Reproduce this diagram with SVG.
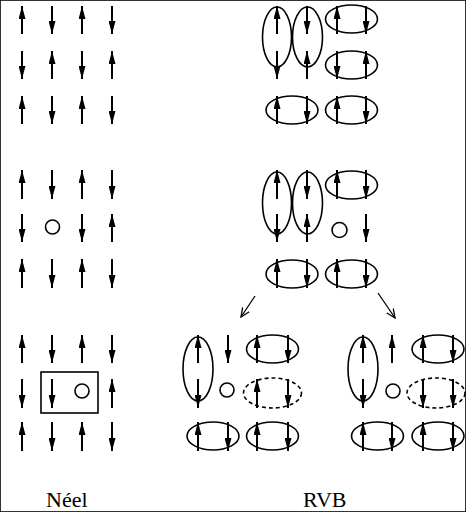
<svg xmlns="http://www.w3.org/2000/svg" width="466" height="512" viewBox="0 0 466 512">
<defs>
<marker id="h" viewBox="0 0 13 7" refX="13" refY="3.5" markerWidth="13" markerHeight="7" markerUnits="userSpaceOnUse" orient="auto"><path d="M0,0 L13,3.5 L0,7 z" fill="#000"/></marker>
<marker id="o" viewBox="0 0 10 10" refX="9" refY="5" markerWidth="10" markerHeight="10" markerUnits="userSpaceOnUse" orient="auto"><path d="M0,1 L9,5 L0,9" fill="none" stroke="#000" stroke-width="1.3"/></marker>
<style>
line.s{stroke:#000;stroke-width:2;marker-end:url(#h)}
ellipse,circle,rect{fill:none;stroke:#000;stroke-width:1.6}
.d{stroke-dasharray:4 3}
.c{stroke:#000;stroke-width:1.3;fill:none;marker-end:url(#o)}
text{font-family:"Liberation Serif","Times New Roman",serif;font-size:22px;fill:#000}
</style>
</defs>
<rect width="466" height="512" fill="#fff" stroke="none"/>

<g id="neel1">
<line class="s" x1="22" y1="34" x2="22" y2="6"/><line class="s" x1="52" y1="6" x2="52" y2="34"/><line class="s" x1="82" y1="34" x2="82" y2="6"/><line class="s" x1="112" y1="6" x2="112" y2="34"/>
<line class="s" x1="22" y1="51" x2="22" y2="79"/><line class="s" x1="52" y1="79" x2="52" y2="51"/><line class="s" x1="82" y1="51" x2="82" y2="79"/><line class="s" x1="112" y1="79" x2="112" y2="51"/>
<line class="s" x1="22" y1="124" x2="22" y2="96"/><line class="s" x1="52" y1="96" x2="52" y2="124"/><line class="s" x1="82" y1="124" x2="82" y2="96"/><line class="s" x1="112" y1="96" x2="112" y2="124"/>
</g>

<g id="neel2">
<line class="s" x1="22" y1="199" x2="22" y2="170"/><line class="s" x1="52" y1="170" x2="52" y2="199"/><line class="s" x1="82" y1="199" x2="82" y2="170"/><line class="s" x1="112" y1="170" x2="112" y2="199"/>
<line class="s" x1="22" y1="214" x2="22" y2="242"/><circle cx="52.5" cy="227" r="7"/><line class="s" x1="82" y1="214" x2="82" y2="242"/><line class="s" x1="112" y1="242" x2="112" y2="214"/>
<line class="s" x1="22" y1="288" x2="22" y2="259"/><line class="s" x1="52" y1="259" x2="52" y2="288"/><line class="s" x1="82" y1="288" x2="82" y2="259"/><line class="s" x1="112" y1="259" x2="112" y2="288"/>
</g>

<g id="neel3">
<line class="s" x1="22" y1="363" x2="22" y2="335"/><line class="s" x1="52" y1="335" x2="52" y2="363"/><line class="s" x1="82" y1="363" x2="82" y2="335"/><line class="s" x1="112" y1="335" x2="112" y2="363"/>
<line class="s" x1="22" y1="379" x2="22" y2="408"/><line class="s" x1="52" y1="379" x2="52" y2="408"/><circle cx="82" cy="391" r="7"/><line class="s" x1="112" y1="408" x2="112" y2="379"/>
<rect x="41" y="372" width="57" height="41"/>
<line class="s" x1="22" y1="451" x2="22" y2="422"/><line class="s" x1="52" y1="422" x2="52" y2="451"/><line class="s" x1="82" y1="451" x2="82" y2="422"/><line class="s" x1="112" y1="422" x2="112" y2="451"/>
</g>

<g id="rvb1">
<ellipse cx="277" cy="37" rx="14.5" ry="30"/><ellipse cx="307.5" cy="37" rx="15" ry="30"/>
<ellipse cx="351.5" cy="19" rx="26" ry="14"/><ellipse cx="351.5" cy="65" rx="26" ry="14"/>
<ellipse cx="292" cy="110" rx="26" ry="14"/><ellipse cx="351.5" cy="110" rx="26" ry="14"/>
<line class="s" x1="277" y1="34" x2="277" y2="6"/><line class="s" x1="307" y1="6" x2="307" y2="34"/><line class="s" x1="337" y1="34" x2="337" y2="6"/><line class="s" x1="366" y1="6" x2="366" y2="34"/>
<line class="s" x1="277" y1="51" x2="277" y2="79"/><line class="s" x1="307" y1="79" x2="307" y2="51"/><line class="s" x1="337" y1="51" x2="337" y2="79"/><line class="s" x1="366" y1="79" x2="366" y2="51"/>
<line class="s" x1="277" y1="124" x2="277" y2="96"/><line class="s" x1="307" y1="96" x2="307" y2="124"/><line class="s" x1="337" y1="124" x2="337" y2="96"/><line class="s" x1="366" y1="96" x2="366" y2="124"/>
</g>

<g id="rvb2">
<ellipse cx="277" cy="203" rx="14.5" ry="31"/><ellipse cx="307.5" cy="203" rx="15" ry="31"/>
<ellipse cx="351.5" cy="185" rx="26" ry="14"/>
<ellipse cx="292" cy="274" rx="26" ry="14"/><ellipse cx="351.5" cy="274" rx="26" ry="14"/>
<line class="s" x1="277" y1="199" x2="277" y2="170"/><line class="s" x1="307" y1="170" x2="307" y2="199"/><line class="s" x1="337" y1="199" x2="337" y2="170"/><line class="s" x1="366" y1="170" x2="366" y2="199"/>
<line class="s" x1="277" y1="214" x2="277" y2="242"/><line class="s" x1="307" y1="242" x2="307" y2="214"/><circle cx="339.5" cy="230" r="7.5"/><line class="s" x1="366" y1="214" x2="366" y2="242"/>
<line class="s" x1="277" y1="288" x2="277" y2="259"/><line class="s" x1="307" y1="259" x2="307" y2="288"/><line class="s" x1="337" y1="288" x2="337" y2="259"/><line class="s" x1="366" y1="259" x2="366" y2="288"/>
</g>

<g id="rvb3">
<ellipse cx="198" cy="369" rx="15" ry="32"/>
<ellipse cx="272.5" cy="349" rx="26" ry="14"/><ellipse class="d" cx="272.5" cy="393" rx="29" ry="15"/>
<ellipse cx="213" cy="436" rx="26" ry="14"/><ellipse cx="272.5" cy="436" rx="26" ry="14"/>
<line class="s" x1="198" y1="363" x2="198" y2="335"/><line class="s" x1="228" y1="335" x2="228" y2="363"/><line class="s" x1="257" y1="363" x2="257" y2="335"/><line class="s" x1="288" y1="335" x2="288" y2="363"/>
<line class="s" x1="198" y1="379" x2="198" y2="408"/><circle cx="227" cy="390" r="7"/><line class="s" x1="257" y1="408" x2="257" y2="379"/><line class="s" x1="288" y1="379" x2="288" y2="408"/>
<line class="s" x1="198" y1="451" x2="198" y2="422"/><line class="s" x1="228" y1="422" x2="228" y2="451"/><line class="s" x1="257" y1="451" x2="257" y2="422"/><line class="s" x1="288" y1="422" x2="288" y2="451"/>
</g>

<g id="rvb4">
<ellipse cx="363" cy="369" rx="15" ry="32"/>
<ellipse cx="438" cy="349" rx="26" ry="14"/><ellipse class="d" cx="436" cy="393" rx="29" ry="15"/>
<ellipse cx="377.5" cy="436" rx="26" ry="14"/><ellipse cx="438" cy="436" rx="26" ry="14"/>
<line class="s" x1="363" y1="363" x2="363" y2="335"/><line class="s" x1="392" y1="363" x2="392" y2="335"/><line class="s" x1="423" y1="363" x2="423" y2="335"/><line class="s" x1="453" y1="335" x2="453" y2="363"/>
<line class="s" x1="363" y1="379" x2="363" y2="408"/><circle cx="393" cy="391" r="7"/><line class="s" x1="423" y1="379" x2="423" y2="408"/><line class="s" x1="453" y1="379" x2="453" y2="408"/>
<line class="s" x1="363" y1="451" x2="363" y2="422"/><line class="s" x1="392" y1="422" x2="392" y2="451"/><line class="s" x1="423" y1="451" x2="423" y2="422"/><line class="s" x1="453" y1="422" x2="453" y2="451"/>
</g>

<g id="connectors">
<line class="c" x1="255" y1="296" x2="241" y2="317"/>
<line class="c" x1="378" y1="293" x2="395" y2="318"/>
</g>

<g id="labels">
<text x="46" y="507">Néel</text>
<text x="303" y="507">RVB</text>
</g>
</svg>
